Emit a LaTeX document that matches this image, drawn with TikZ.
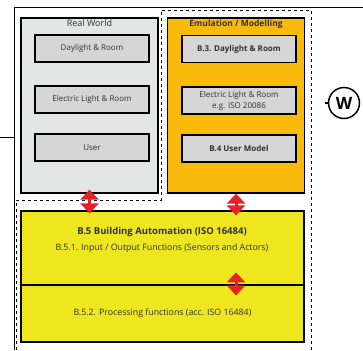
\documentclass[tikz,border=0pt]{standalone}
\usepackage{fontspec}
\setmainfont{Open Sans}
\usetikzlibrary{arrows.meta}
\definecolor{panelgray}{RGB}{228,229,229}
\definecolor{boxgray}{RGB}{214,214,214}
\definecolor{emuorange}{RGB}{250,186,12}
\definecolor{bayellow}{RGB}{238,230,30}
\definecolor{linkred}{RGB}{232,32,40}
\definecolor{textgray}{RGB}{50,50,50}
\begin{document}
\begin{tikzpicture}[x=1pt,y=-1pt,
    panel/.style={draw=black,line width=1.2pt,minimum width=137pt,minimum height=175pt,inner sep=0pt},
    item/.style={draw=black,line width=1.5pt,fill=boxgray,minimum width=114pt,minimum height=27pt,
      inner sep=1pt,align=center,text=textgray,font=\fontsize{8}{11}\selectfont},
    bastrip/.style={draw=black,line width=1.2pt,fill=bayellow,minimum width=283pt,inner sep=0pt,
      align=center,text=textgray,font=\fontsize{8.8}{11}\selectfont},
    link/.style={linkred,line width=3pt,{Triangle[width=18pt,length=10pt]}-{Triangle[width=18pt,length=10pt]}}]
    \useasboundingbox (0,0) rectangle (363,350);

    % Frame
    \draw[line width=0.8pt] (0,137) -- (14,137);
    \draw[line width=0.8pt] (14,350) -- (14,7) -- (363,7);
    \draw[dashed,line width=0.7pt] (16,350) -- (16,200) -- (161,200) -- (161,10) -- (311,10) -- (311,350);

    % Real world
    \node[panel,fill=panelgray] (rw) at (89.5,105.5) {};
    \node[below,inner sep=2pt,font=\fontsize{9}{10}\selectfont,text=textgray] (rwt) at (rw.north) {Real World};
    \node[item] (rw1) at (92,48.5) {Daylight \& Room};
    \node[item] (rw2) at (92,99.5) {Electric Light \& Room};
    \node[item] (rw3) at (92,147.5) {User};

    % Emulation / Modelling
    \node[panel,fill=emuorange] (em) at (236,105.5) {};
    \node[below,inner sep=2pt,font=\bfseries\fontsize{8.5}{10}\selectfont,text=textgray] (emt) at (em.north) {Emulation / Modelling};
    \node[item,font=\bfseries\fontsize{8}{11}\selectfont] (em1) at (239,49) {B.3. Daylight \& Room};
    \node[item] (em2) at (239,100.5) {Electric Light \& Room\\e.g. ISO 20086};
    \node[item,font=\bfseries\fontsize{8}{11}\selectfont] (em3) at (239,148.5) {B.4 User Model};

    % Building automation
    \node[bastrip,minimum height=74pt] (ba) at (162.5,248) {};
    \node[font=\bfseries\fontsize{9.5}{11}\selectfont,text=textgray] (bat) at (162,232) {B.5 Building Automation (ISO 16484)};
    \node[font=\fontsize{8.8}{11}\selectfont,text=textgray] (io) at (162,248) {B.5.1. Input / Output Functions (Sensors and Actors)};
    \node[bastrip,minimum height=57pt] (pf) at (162.5,313.5) {B.5.2. Processing functions (acc. ISO 16484)};

    % Links
    \draw[link] ([yshift=4pt]rw.south) -- ([yshift=-3pt]ba.north -| rw.south);
    \draw[link] ([yshift=0pt]em.south) -- ([yshift=-5pt]ba.north -| em.south);
    \draw[link] ([yshift=12pt]pf.north -| em.south) -- ([yshift=-11pt]pf.north -| em.south);

    % W symbol
    \node[draw,circle,line width=1.5pt,minimum size=31pt,inner sep=0pt,
      font=\bfseries\fontsize{17}{17}\selectfont] (w) at (344,103) {W};
    \draw[line width=1.5pt] (w.west) -- ++(-3,0);
\end{tikzpicture}
\end{document}
